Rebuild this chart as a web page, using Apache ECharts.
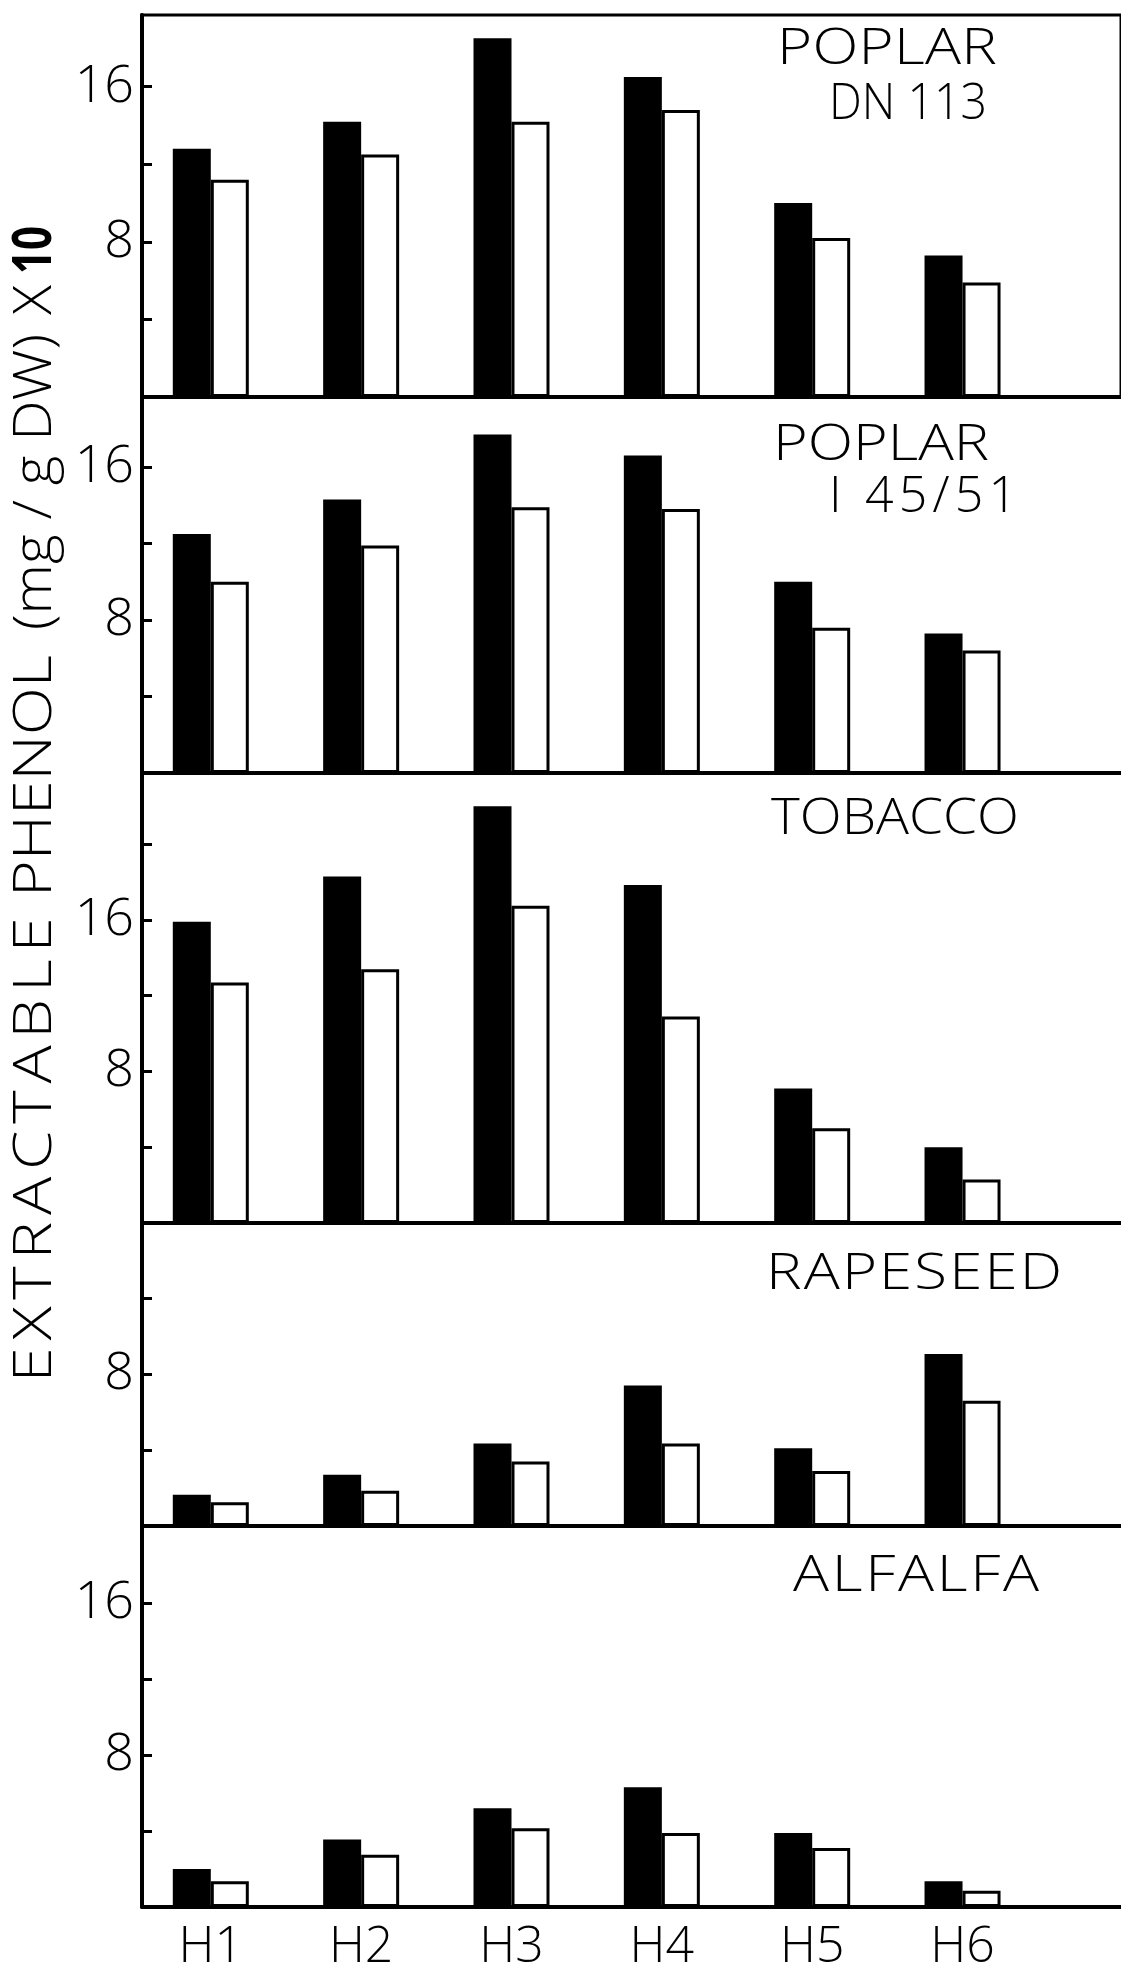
<!DOCTYPE html>
<html><head><meta charset="utf-8">
<script src="https://cdn.jsdelivr.net/npm/echarts@6/dist/echarts.min.js"></script>
<style>html,body{margin:0;padding:0;background:#fff}#c{width:1121px;height:1975px}</style>
</head><body><div id="c"></div>
<script>
// ---- data ----
const categories = ['H1', 'H2', 'H3', 'H4', 'H5', 'H6'];
const panelTitles = [['POPLAR', 'DN 113'], ['POPLAR', 'I 45/51'], ['TOBACCO'], ['RAPESEED'], ['ALFALFA']];

const poplarDN113Black = [12.8, 14.2, 18.5, 16.5, 10.0, 7.3];
const poplarDN113White = [11.2, 12.5, 14.2, 14.8, 8.2, 5.9];
const poplarI4551Black = [12.5, 14.3, 17.7, 16.6, 10.0, 7.3];
const poplarI4551White = [10.0, 11.9, 13.9, 13.8, 7.6, 6.4];
const tobaccoBlack = [15.9, 18.3, 22.0, 17.85, 7.1, 4.0];
const tobaccoWhite = [12.7, 13.4, 16.75, 10.9, 5.0, 2.3];
const rapeseedBlack = [1.65, 2.7, 4.35, 7.4, 4.1, 9.05];
const rapeseedWhite = [1.25, 1.85, 3.4, 4.35, 2.9, 6.6];
const alfalfaBlack = [2.0, 3.55, 5.2, 6.3, 3.9, 1.35];
const alfalfaWhite = [1.35, 2.75, 4.15, 3.9, 3.1, 0.85];

const yTickValues = [[4, 8, 12, 16], [4, 8, 12, 16], [4, 8, 12, 16, 20], [4, 8, 12], [4, 8, 12, 16]];
const yTickLabels = [[8, 16], [8, 16], [8, 16], [8], [8, 16]];
const yAxisTitle = ['EXTRACTABLE', 'PHENOL', '(mg / g DW)', 'X', '10'];

// ---- layout ----
const blackSets = [poplarDN113Black, poplarI4551Black, tobaccoBlack, rapeseedBlack, alfalfaBlack];
const whiteSets = [poplarDN113White, poplarI4551White, tobaccoWhite, rapeseedWhite, alfalfaWhite];
const grids = [
  {top: 15, height: 382, ymax: 19.7},
  {top: 397, height: 376, ymax: 19.66},
  {top: 773, height: 450, ymax: 23.76},
  {top: 1224, height: 302, ymax: 15.9},
  {top: 1527, height: 380, ymax: 20.0}
];
// [left x, middle y, target ink width, max horizontal stretch]
const titlePos = [
  [[777, 50, 220, 1.2], [829, 105, 158, 1.0]],
  [[773, 446, 216, 1.2], [829, 498, 188, 1.0]],
  [[771, 820, 248, 1.2]],
  [[766, 1275, 296, 1.2]],
  [[793, 1577, 246, 1.2]]
];
const FAMILY = "'Open Sans', 'Lato', sans-serif";
const LEFT = 142, XMIN = -0.4576, XMAX = 6.054;

const mctx = document.createElement('canvas').getContext('2d');
function measure(s, font) { mctx.font = font; return mctx.measureText(s).width; }
let gid = 0;
// spread a word to a target length: returns {text, rich, scale}
function fitWord(word, target, font, maxScale, bold) {
  const chars = [...word];
  const w = chars.reduce((a, c) => a + measure(c, font), 0);
  let scale = Math.min(maxScale, target / w);
  const gap = chars.length > 1 ? Math.max(0, (target / scale - w) / (chars.length - 1)) : 0;
  const rich = {t: {font: font, fill: '#000'}, g: {width: gap}};
  const text = chars.map(c => `{t|${c}}`).join('{g| }');
  return {text, rich, scale};
}

const chart = echarts.init(document.getElementById('c'), null, {renderer: 'canvas'});
const option = {
  backgroundColor: '#fff',
  animation: false,
  grid: [], xAxis: [], yAxis: [], series: [], graphic: []
};
const TFONT = `300 50px ${FAMILY}`;
grids.forEach((g, i) => {
  option.grid.push({left: LEFT, right: -3, top: g.top, height: g.height,
    show: i === 0, borderColor: '#000', borderWidth: 3, backgroundColor: 'transparent'});
  const last = i === grids.length - 1;
  option.xAxis.push({
    type: 'value', gridIndex: i, min: XMIN, max: XMAX,
    splitLine: {show: false},
    axisLine: {show: true, onZero: false, lineStyle: {color: '#000', width: 4}},
    axisTick: {show: false},
    axisLabel: last ? {
      show: true, customValues: categories.map((c, k) => k),
      formatter: v => categories[Math.round(v)] || '',
      color: '#000', fontSize: 50, fontFamily: FAMILY, fontWeight: 300, margin: 16
    } : {show: false}
  });
  option.yAxis.push({
    type: 'value', gridIndex: i, min: 0, max: g.ymax,
    splitLine: {show: false},
    axisLine: {show: true, onZero: false, lineStyle: {color: '#000', width: 4}},
    axisTick: {show: true, inside: true, length: 10, customValues: yTickValues[i], lineStyle: {color: '#000', width: 3}},
    axisLabel: {show: true, customValues: yTickLabels[i], color: '#000', fontSize: 52,
      fontFamily: FAMILY, fontWeight: 300, margin: 8}
  });
  option.series.push({
    type: 'bar', xAxisIndex: i, yAxisIndex: i, barWidth: 38, barGap: '0%',
    itemStyle: {color: '#000'},
    data: blackSets[i].map((v, k) => [k, v])
  });
  option.series.push({
    type: 'bar', xAxisIndex: i, yAxisIndex: i, barWidth: 38, barGap: '0%',
    itemStyle: {color: '#fff', borderColor: '#000', borderWidth: 3},
    data: whiteSets[i].map((v, k) => [k, v])
  });
  panelTitles[i].forEach((t, j) => {
    const p = titlePos[i][j];
    const f = fitWord(t, p[2], TFONT, p[3]);
    option.graphic.push({type: 'text', x: p[0], y: p[1], scaleX: f.scale, z: 10,
      style: {text: f.text, rich: f.rich, align: 'left', verticalAlign: 'middle'}});
  });
});

// rotated y-axis title: one element per word, [center y, length]
const YF = `300 53px ${FAMILY}`, YB = `bold 53px ${FAMILY}`;
const yWordPos = [[1150, 465], [776, 242], [482, 296], [300, 30], [250, 48]];
yAxisTitle.forEach((w, k) => {
  const f = fitWord(w, yWordPos[k][1], k === 4 ? YB : YF, 1.2);
  option.graphic.push({
    type: 'text', x: 36, y: yWordPos[k][0], rotation: Math.PI / 2, scaleX: f.scale, z: 10,
    style: {text: f.text, rich: f.rich, align: 'center', verticalAlign: 'middle'}
  });
});
chart.setOption(option);
</script></body></html>
